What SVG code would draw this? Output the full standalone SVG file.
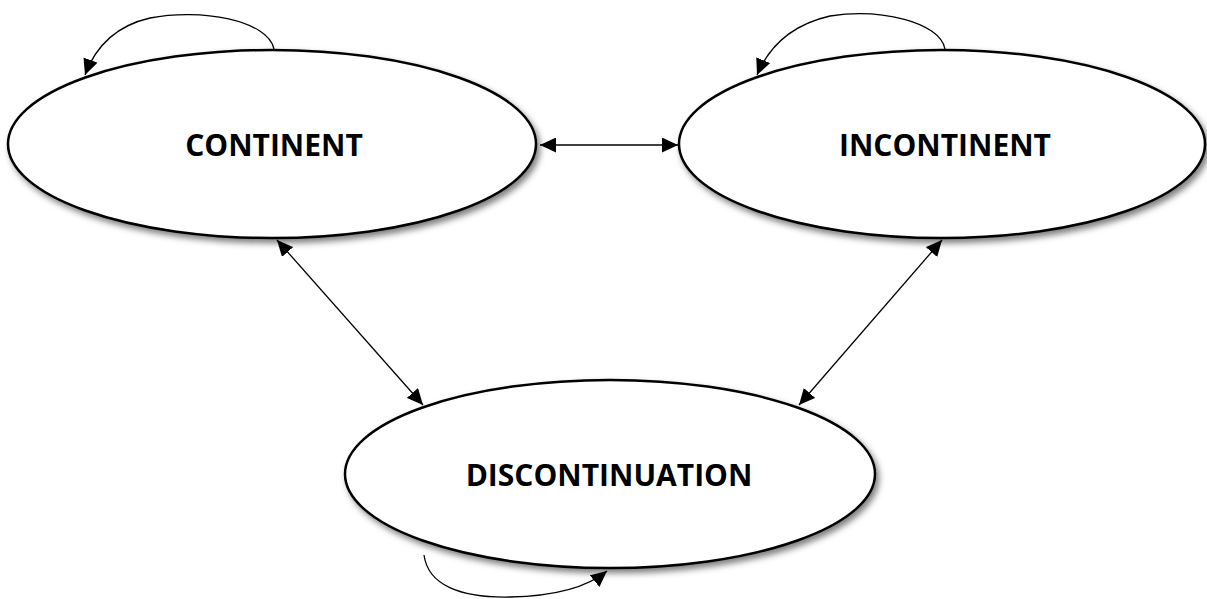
<svg xmlns="http://www.w3.org/2000/svg" width="1207" height="599" viewBox="0 0 1207 599">
<style>
.node{fill:#fff;stroke:#000;stroke-width:2.5;filter:url(#sh)}
.lbl{font-family:"Open Sans","Liberation Sans",sans-serif;font-weight:bold;font-size:30px;fill:#000;text-anchor:middle;dominant-baseline:central}
.edge{fill:none;stroke:#000;stroke-width:1.3}
</style>
<defs>
<filter id="sh" x="-10%" y="-10%" width="130%" height="140%">
<feDropShadow dx="3" dy="4" stdDeviation="3" flood-color="#000" flood-opacity="0.5"/>
</filter>
<marker id="ah" viewBox="0 0 10 10" refX="10" refY="5" markerWidth="16" markerHeight="15" markerUnits="userSpaceOnUse" orient="auto-start-reverse" preserveAspectRatio="none">
<path d="M0,0 L10,5 L0,10 z" fill="#000"/>
</marker>
</defs>
<g id="n-continent">
<ellipse class="node" cx="272" cy="144" rx="264" ry="94"/>
<text class="lbl" x="274" y="144">CONTINENT</text>
</g>
<g id="n-incontinent">
<ellipse class="node" cx="942" cy="144" rx="263" ry="94"/>
<text class="lbl" x="945" y="144">INCONTINENT</text>
</g>
<g id="n-discontinuation">
<ellipse class="node" cx="610" cy="474" rx="265" ry="94"/>
<text class="lbl" x="609" y="474">DISCONTINUATION</text>
</g>
<g id="connectors">
<line class="edge" x1="540" y1="145" x2="678" y2="145" marker-start="url(#ah)" marker-end="url(#ah)"/>
<line class="edge" x1="277" y1="240" x2="423" y2="405" marker-start="url(#ah)" marker-end="url(#ah)"/>
<line class="edge" x1="942" y1="240" x2="799" y2="405" marker-start="url(#ah)" marker-end="url(#ah)"/>
<path class="edge" d="M274,49 C268,20 200,8 150,18 C115,26 95,48 85,75" marker-end="url(#ah)"/>
<path class="edge" d="M945,49 C940,22 880,8 830,16 C795,24 770,44 757,75" marker-end="url(#ah)"/>
<path class="edge" d="M424,555 C428,585 460,598 510,597 C560,596 590,585 607,571" marker-end="url(#ah)"/>
</g>
</svg>
